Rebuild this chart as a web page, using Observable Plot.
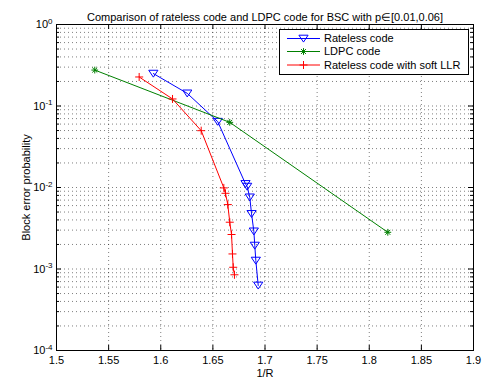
<!DOCTYPE html>
<html><head><meta charset="utf-8">
<script src="https://cdn.jsdelivr.net/npm/d3@7"></script>
<script src="https://cdn.jsdelivr.net/npm/@observablehq/plot@0.6"></script>
<style>body{margin:0;background:#fff} svg{display:block}</style>
</head><body><div id="chart"></div>
<script>
const titleText = "Comparison of rateless code and LDPC code for BSC with p\u2208[0.01,0.06]";
const xLabel = "1/R";
const yLabel = "Block error probability";
const seriesNames = ["Rateless code", "LDPC code", "Rateless code with soft LLR"];
const seriesColors = ["#0000ff", "#008000", "#ff0000"];

const ratelessX = [1.5929, 1.6254, 1.6547, 1.6813, 1.6829, 1.6854, 1.6871, 1.6893, 1.6902, 1.6912, 1.6935];
const ratelessY = [0.250, 0.143, 0.0642, 0.01107, 0.01026, 0.00758, 0.00475, 0.00290, 0.00194, 0.00127, 0.000628];
const ldpcX = [1.5367, 1.6662, 1.8178];
const ldpcY = [0.276, 0.0630, 0.00282];
const softX = [1.5793, 1.6113, 1.6388, 1.6605, 1.6621, 1.6643, 1.6662, 1.6679, 1.6688, 1.6695, 1.6707];
const softY = [0.227, 0.122, 0.0498, 0.00989, 0.00849, 0.00617, 0.00375, 0.00265, 0.00153, 0.00105, 0.000849];

const xTicks = [1.5, 1.55, 1.6, 1.65, 1.7, 1.75, 1.8, 1.85, 1.9];
const xTickLabels = ["1.5", "1.55", "1.6", "1.65", "1.7", "1.75", "1.8", "1.85", "1.9"];
const yTicks = [1, 0.1, 0.01, 0.001, 0.0001];
const yTickExponents = ["0", "-1", "-2", "-3", "-4"];

// symbols
const symTriDown = {draw(c, size) {const r = Math.sqrt(size / Math.PI); c.moveTo(-r, -0.72 * r); c.lineTo(r, -0.72 * r); c.lineTo(0, 0.78 * r); c.closePath();}};
const symAsterisk = {draw(c, size) {const r = Math.sqrt(size / Math.PI); const d = r * 0.72;
  c.moveTo(-r, 0); c.lineTo(r, 0); c.moveTo(0, -r); c.lineTo(0, r);
  c.moveTo(-d, -d); c.lineTo(d, d); c.moveTo(-d, d); c.lineTo(d, -d);}};
const symPlus = {draw(c, size) {const r = Math.sqrt(size / Math.PI); c.moveTo(-r, 0); c.lineTo(r, 0); c.moveTo(0, -r); c.lineTo(0, r);}};
const seriesSymbols = [symTriDown, symAsterisk, symPlus];
const seriesR = [4.6, 3.4, 4.0];

const seriesX = [ratelessX, ldpcX, softX];
const seriesY = [ratelessY, ldpcY, softY];
const rows = seriesNames.flatMap((name, s) => seriesX[s].map((x, i) => ({series: name, s, x, y: seriesY[s][i]})));

const W = 487, H = 385, mL = 56, mR = 14, mT = 24, mB = 35;
const fW = W - mL - mR, fH = H - mT - mB;

const yMinor = [];
for (let k = -4; k < 0; k++) for (let m = 2; m <= 9; m++) yMinor.push(+(m * Math.pow(10, k)).toPrecision(3));
const yGrid = yTicks.concat(yMinor);
const xLabelMap = new Map(xTicks.map((v, i) => [v, xTickLabels[i]]));
const yExpMap = new Map(yTicks.map((v, i) => [v, yTickExponents[i]]));

const gridStyle = {stroke: "#000", strokeOpacity: 0.5, strokeDasharray: "1,3", strokeWidth: 1};

const marks = [
  Plot.gridX(xTicks, gridStyle),
  Plot.gridY(yGrid, gridStyle),
  // inward ticks
  Plot.tickX(xTicks, {x: d => d, insetTop: fH - 5, stroke: "#000"}),
  Plot.tickX(xTicks, {x: d => d, insetBottom: fH - 5, stroke: "#000"}),
  Plot.tickY(yTicks, {y: d => d, insetRight: fW - 5, stroke: "#000"}),
  Plot.tickY(yTicks, {y: d => d, insetLeft: fW - 5, stroke: "#000"}),
  Plot.tickY(yMinor, {y: d => d, insetRight: fW - 3, stroke: "#000"}),
  Plot.tickY(yMinor, {y: d => d, insetLeft: fW - 3, stroke: "#000"}),
];
seriesNames.forEach((name, s) => {
  const data = rows.filter(r => r.s === s);
  marks.push(Plot.line(data, {x: "x", y: "y", stroke: seriesColors[s], strokeWidth: 1}));
  marks.push(Plot.dot(data, {x: "x", y: "y", r: seriesR[s], symbol: seriesSymbols[s], stroke: seriesColors[s], fill: "none", strokeWidth: 1}));
});
marks.push(
  Plot.frame({stroke: "#000", strokeWidth: 1}),
  Plot.axisX(xTicks, {anchor: "bottom", tickSize: 0, tickPadding: 6, tickFormat: d => xLabelMap.get(d), label: null}),
  Plot.axisY(yTicks, {anchor: "left", tickSize: 0, tickPadding: 4, tickFormat: d => yExpMap.get(d), label: null}),
  Plot.text([titleText], {frameAnchor: "top", dy: -11, fontSize: 11, text: d => d}),
  Plot.text([xLabel], {frameAnchor: "bottom", dy: 26, fontSize: 11, text: d => d}),
  Plot.text([yLabel], {frameAnchor: "left", dx: -30, rotate: -90, textAnchor: "middle", fontSize: 11, text: d => d})
);

const chart = Plot.plot({
  width: W, height: H,
  marginLeft: mL, marginRight: mR, marginTop: mT, marginBottom: mB,
  style: {fontFamily: "'Liberation Sans', Arial, Helvetica, sans-serif", fontSize: "11px", background: "#fff", color: "#000", overflow: "visible"},
  x: {domain: [1.5, 1.9]},
  y: {type: "log", domain: [1e-4, 1]},
  marks
});
document.getElementById("chart").appendChild(chart);

const svg = d3.select(chart);
// superscript exponents on y tick labels
svg.selectAll('g[aria-label="y-axis tick label"] text').each(function() {
  const t = d3.select(this);
  const e = t.text();
  t.text("").attr("text-anchor", "end");
  t.append("tspan").text("10");
  t.append("tspan").attr("font-size", "8px").attr("dy", "-0.55em").text(e);
});

// legend
const lg = svg.append("g").attr("font-family", "'Liberation Sans', Arial, sans-serif").attr("font-size", 11).attr("text-anchor", "start");
const lx = 279, ly = 29, lw = 189, lh = 45;
lg.append("rect").attr("x", lx + 0.5).attr("y", ly + 0.5).attr("width", lw).attr("height", lh).attr("fill", "#fff").attr("stroke", "#000");
const rowY = [38.5, 51.5, 65];
seriesNames.forEach((name, s) => {
  const yy = rowY[s];
  lg.append("line").attr("x1", 287).attr("x2", 320).attr("y1", yy).attr("y2", yy).attr("stroke", seriesColors[s]);
  lg.append("path").attr("transform", `translate(303.5,${yy})`)
    .attr("d", d3.symbol(seriesSymbols[s], Math.PI * seriesR[s] * seriesR[s])())
    .attr("fill", "none").attr("stroke", seriesColors[s]);
  lg.append("text").attr("x", 324).attr("y", yy).attr("dy", "0.35em").attr("text-anchor", "start").attr("fill", "#000").text(name);
});
</script>
</body></html>
